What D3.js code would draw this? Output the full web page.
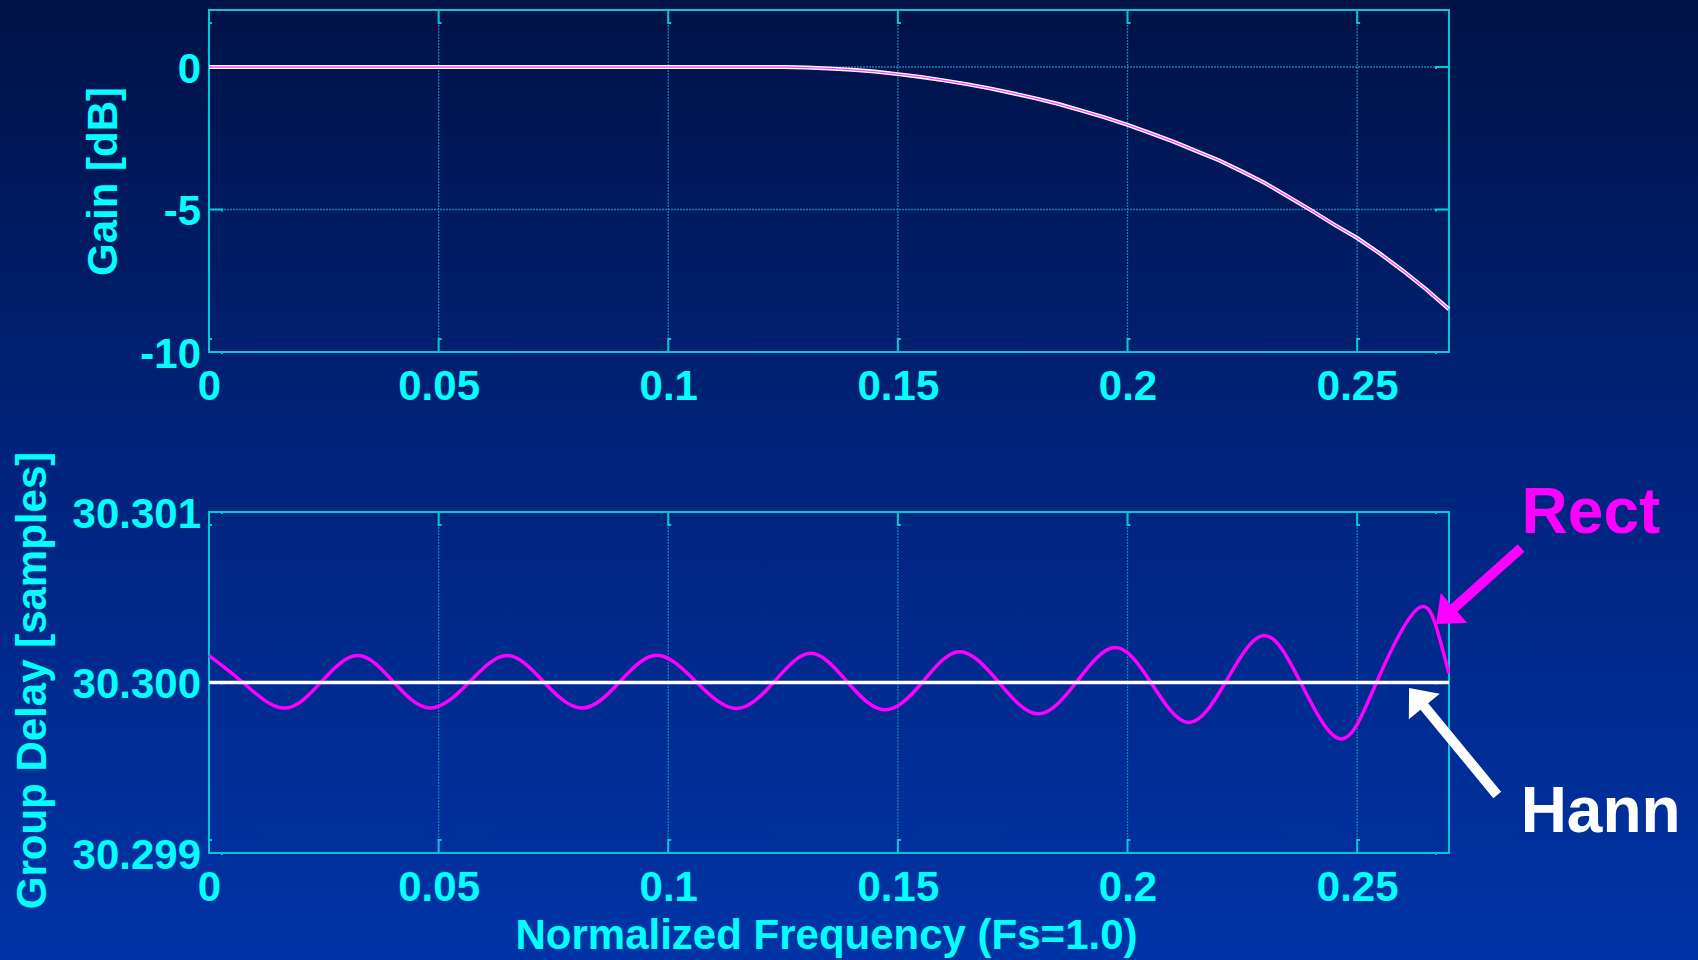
<!DOCTYPE html>
<html>
<head>
<meta charset="utf-8">
<script src="https://cdn.jsdelivr.net/npm/d3@7"></script>
<style>
html, body { margin: 0; padding: 0; }
body { width: 1698px; height: 960px; overflow: hidden; }
text { font-family: "Liberation Sans", Arial, sans-serif; font-weight: bold; }
</style>
</head>
<body>
<div id="chart"></div>
<script>
// frequency ticks, shared by both panels
var freqTicks = [0, 0.05, 0.1, 0.15, 0.2, 0.25];
var freqTickLabels = ["0", "0.05", "0.1", "0.15", "0.2", "0.25"];

// top panel: gain in dB (Hann and Rect lie on top of each other)
var gainTicks = [-10, -5, 0];
var gainTickLabels = ["-10", "-5", "0"];
var gainFreq = [0, 0.05, 0.1, 0.125, 0.13, 0.135, 0.14, 0.145, 0.15, 0.155, 0.16, 0.165, 0.17, 0.175, 0.18, 0.185,
                0.19, 0.195, 0.2, 0.205, 0.21, 0.215, 0.22, 0.225, 0.23, 0.235, 0.24, 0.245, 0.25, 0.255, 0.26, 0.265, 0.27];
var gainHann = [0, 0, 0, 0, -0.02, -0.05, -0.1, -0.16, -0.25, -0.35, -0.47, -0.6, -0.75, -0.92, -1.1, -1.3,
                -1.53, -1.77, -2.03, -2.32, -2.62, -2.95, -3.28, -3.67, -4.08, -4.55, -5.03, -5.53, -6.0, -6.55, -7.15, -7.8, -8.5];
var gainRect = [0, 0, 0, 0, -0.02, -0.05, -0.1, -0.16, -0.25, -0.35, -0.47, -0.6, -0.75, -0.92, -1.1, -1.3,
                -1.53, -1.77, -2.03, -2.32, -2.62, -2.95, -3.28, -3.67, -4.08, -4.55, -5.03, -5.53, -6.0, -6.55, -7.15, -7.8, -8.5];

// bottom panel: group delay in samples
var delayTicks = [30.299, 30.300, 30.301];
var delayTickLabels = ["30.299", "30.300", "30.301"];
var hannDelayFreq = [0, 0.27];
var hannDelay = [30.3, 30.3];
var rectDelayFreq = [0, 0.0074, 0.0162, 0.0243, 0.0324, 0.0403, 0.0482, 0.0566, 0.0649, 0.0730, 0.0812, 0.0893,
                     0.0975, 0.1062, 0.1148, 0.1229, 0.1310, 0.1391, 0.1472, 0.1553, 0.1634, 0.1720, 0.1805, 0.1888,
                     0.1972, 0.2051, 0.2132, 0.2213, 0.2296, 0.2377, 0.2464, 0.2542, 0.2631, 0.2675, 0.2700];
var rectDelay = [30.300158, 30.3, 30.29985, 30.3, 30.300158, 30.3, 30.29985, 30.3, 30.300158, 30.3, 30.29985, 30.3,
                 30.30016, 30.3, 30.299848, 30.3, 30.300171, 30.3, 30.29984, 30.3, 30.300181, 30.3, 30.299816, 30.3,
                 30.300205, 30.3, 30.299766, 30.3, 30.300276, 30.3, 30.299669, 30.3, 30.300431, 30.3003, 30.300053];

// annotations (data units of the bottom panel)
var rectLabel = {text: "Rect", f: 0.2858, v: 30.300877};
var hannLabel = {text: "Hann", f: 0.2856, v: 30.299123};
var rectArrow = {f1: 0.2857, v1: 30.300789, f2: 0.2672, v2: 30.300343};
var hannArrow = {f1: 0.2805, v1: 30.29934, f2: 0.2613, v2: 30.299968};

var svgWidth = 1698;
var svgHeight = 960;
var plotLeft = 209, plotRight = 1449;
var cyan = "#00ffff";

var svg = d3.select("#chart")
    .append("svg")
    .attr("width", svgWidth)
    .attr("height", svgHeight);

// slide background
var grad = svg.append("defs").append("linearGradient")
    .attr("id", "bg").attr("x1", 0).attr("y1", 0).attr("x2", 0).attr("y2", 1);
grad.append("stop").attr("offset", "0%").attr("stop-color", "#001246");
grad.append("stop").attr("offset", "50%").attr("stop-color", "#00247e");
grad.append("stop").attr("offset", "100%").attr("stop-color", "#0034a6");
svg.append("rect").attr("width", svgWidth).attr("height", svgHeight).attr("fill", "url(#bg)");

var x = d3.scaleLinear().domain([0, 0.27]).range([plotLeft, plotRight]);

// draws grid, frame, inner ticks and tick labels for one panel
function drawPanel(top, bottom, yDomain, yTicks, yLabels) {
    var y = d3.scaleLinear().domain(yDomain).range([bottom, top]);
    var g = svg.append("g");

    // dotted grid
    g.selectAll(".vgrid").data(freqTicks).enter().append("line")
        .attr("x1", d => x(d)).attr("x2", d => x(d))
        .attr("y1", top).attr("y2", bottom)
        .attr("stroke", "#1a7cb0").attr("stroke-width", 1.3).attr("stroke-dasharray", "2,1");
    g.selectAll(".hgrid").data(yTicks).enter().append("line")
        .attr("x1", plotLeft).attr("x2", plotRight)
        .attr("y1", d => y(d)).attr("y2", d => y(d))
        .attr("stroke", "#1a7cb0").attr("stroke-width", 1.3).attr("stroke-dasharray", "2,1");

    // frame
    g.append("rect")
        .attr("x", plotLeft).attr("y", top)
        .attr("width", plotRight - plotLeft).attr("height", bottom - top)
        .attr("fill", "none").attr("stroke", "#00c8d4").attr("stroke-width", 2);

    // inner ticks, matlab style
    var tickStyle = function(sel) {
        sel.attr("fill", "none").attr("stroke", "#00c8d4").attr("stroke-width", 2);
    };
    g.selectAll(".ttick").data(freqTicks).enter().append("path")
        .attr("d", d => "M" + x(d) + "," + top + "V" + (top + 13) + "h3").call(tickStyle);
    g.selectAll(".btick").data(freqTicks).enter().append("path")
        .attr("d", d => "M" + (x(d) + 3) + "," + (bottom - 13) + "h-3V" + bottom).call(tickStyle);
    g.selectAll(".ltick").data(yTicks).enter().append("path")
        .attr("d", d => "M" + plotLeft + "," + y(d) + "H" + (plotLeft + 13) + "v2").call(tickStyle);
    g.selectAll(".rtick").data(yTicks).enter().append("path")
        .attr("d", d => "M" + plotRight + "," + y(d) + "H" + (plotRight - 13) + "v2").call(tickStyle);

    // tick labels
    var bottomAxis = d3.axisBottom(x).tickValues(freqTicks)
        .tickFormat((d, i) => freqTickLabels[i]).tickSize(0).tickPadding(18);
    var leftAxis = d3.axisLeft(y).tickValues(yTicks)
        .tickFormat((d, i) => yLabels[i]).tickSize(0).tickPadding(8);

    var xa = g.append("g").attr("transform", "translate(0," + bottom + ")").call(bottomAxis);
    var ya = g.append("g").attr("transform", "translate(" + plotLeft + ",0)").call(leftAxis);
    [xa, ya].forEach(function(a) {
        a.select(".domain").remove();
        a.attr("font-family", null).attr("font-size", null);
        a.selectAll("text").attr("fill", cyan).style("font-size", "42px");
    });
    ya.selectAll("text").attr("dy", "0.36em");

    return y;
}

var yGain = drawPanel(10, 352, [-10, 2], gainTicks, gainTickLabels);
var yDelay = drawPanel(512, 853, [30.299, 30.301], delayTicks, delayTickLabels);

// gain curves
var gainLine = d3.line().x(d => x(d[0])).y(d => yGain(d[1]));
svg.append("path")
    .datum(d3.zip(gainFreq, gainHann))
    .attr("d", gainLine)
    .attr("fill", "none").attr("stroke", "#ffffff").attr("stroke-width", 4);
svg.append("path")
    .datum(d3.zip(gainFreq, gainRect))
    .attr("d", gainLine)
    .attr("fill", "none").attr("stroke", "#ff44ff").attr("stroke-width", 1.3);

// group delay curves
var rectLine = d3.line().curve(d3.curveNatural).x(d => x(d[0])).y(d => yDelay(d[1]));
svg.append("path")
    .datum(d3.zip(rectDelayFreq, rectDelay))
    .attr("d", rectLine)
    .attr("fill", "none").attr("stroke", "#ff00ff").attr("stroke-width", 3.5)
    .attr("stroke-linejoin", "round");
svg.append("path")
    .datum(d3.zip(hannDelayFreq, hannDelay))
    .attr("d", d3.line().x(d => x(d[0])).y(d => yDelay(d[1])))
    .attr("fill", "none").attr("stroke", "#ffffff").attr("stroke-width", 3.5);

// axis titles
svg.append("text")
    .attr("transform", "translate(117,181.5) rotate(-90)")
    .attr("text-anchor", "middle")
    .attr("fill", cyan).style("font-size", "42px")
    .text("Gain [dB]");
svg.append("text")
    .attr("transform", "translate(46,680.5) rotate(-90)")
    .attr("text-anchor", "middle")
    .attr("fill", cyan).style("font-size", "42px")
    .text("Group Delay [samples]");
svg.append("text")
    .attr("x", 826.5).attr("y", 949)
    .attr("text-anchor", "middle")
    .attr("fill", cyan).style("font-size", "42px")
    .text("Normalized Frequency (Fs=1.0)");

// annotation arrows
function arrow(a, color) {
    var x1 = x(a.f1), y1 = yDelay(a.v1), x2 = x(a.f2), y2 = yDelay(a.v2);
    var len = Math.hypot(x2 - x1, y2 - y1);
    var ux = (x2 - x1) / len, uy = (y2 - y1) / len;
    var px = -uy, py = ux;
    var headLen = 24, headHalf = 20, shaftHalf = 5;
    var bx = x2 - ux * headLen, by = y2 - uy * headLen;
    var pts = [
        [x1 + px * shaftHalf, y1 + py * shaftHalf],
        [bx + px * shaftHalf, by + py * shaftHalf],
        [bx + px * headHalf, by + py * headHalf],
        [x2, y2],
        [bx - px * headHalf, by - py * headHalf],
        [bx - px * shaftHalf, by - py * shaftHalf],
        [x1 - px * shaftHalf, y1 - py * shaftHalf]
    ];
    svg.append("polygon").attr("points", pts.map(p => p.join(",")).join(" ")).attr("fill", color);
}
arrow(rectArrow, "#ff00ff");
arrow(hannArrow, "#ffffff");

svg.append("text")
    .attr("x", x(rectLabel.f)).attr("y", yDelay(rectLabel.v))
    .attr("fill", "#ff00ff").style("font-size", "64px")
    .text(rectLabel.text);
svg.append("text")
    .attr("x", x(hannLabel.f)).attr("y", yDelay(hannLabel.v))
    .attr("fill", "#ffffff").style("font-size", "64px")
    .text(hannLabel.text);
</script>
</body>
</html>
